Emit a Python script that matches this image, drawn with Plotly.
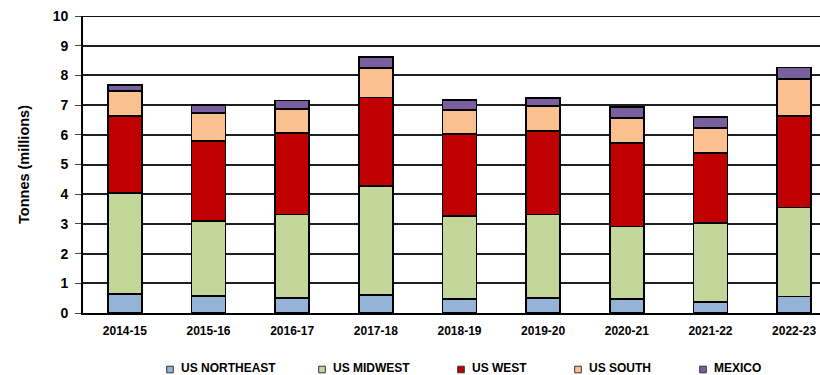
import plotly.graph_objects as go

# Seasonal tonnage by destination region (millions of tonnes)
seasons = ["2014-15", "2015-16", "2016-17", "2017-18", "2018-19",
           "2019-20", "2020-21", "2021-22", "2022-23"]
us_northeast = [0.64, 0.58, 0.51, 0.61, 0.47, 0.50, 0.48, 0.38, 0.55]
us_midwest = [3.40, 2.52, 2.81, 3.67, 2.79, 2.81, 2.43, 2.65, 3.00]
us_west = [2.59, 2.70, 2.74, 2.97, 2.76, 2.81, 2.81, 2.36, 3.09]
us_south = [0.85, 0.93, 0.80, 0.99, 0.82, 0.84, 0.85, 0.83, 1.23]
mexico = [0.19, 0.28, 0.30, 0.37, 0.33, 0.27, 0.36, 0.38, 0.40]

series_names = ["US NORTHEAST", "US MIDWEST", "US WEST", "US SOUTH", "MEXICO"]
series_values = [us_northeast, us_midwest, us_west, us_south, mexico]
series_colors = ["#95B3D7", "#C4D79B", "#C00000", "#FAC090", "#7A5F9E"]

FONT = "Liberation Sans, Arial, sans-serif"
W, H = 820, 375
ML, MR, MT, MB = 83, 0, 16, 62
PW, PH = W - ML - MR, H - MT - MB


def px_x(px):
    return (px - ML) / PW


def px_y(py):
    return (H - MB - py) / PH


fig = go.Figure()
for name, vals, col in zip(series_names, series_values, series_colors):
    fig.add_trace(go.Bar(
        x=seasons, y=vals, name=name,
        marker=dict(color=col, line=dict(color="#000000", width=1.6)),
        showlegend=False,
    ))

# Legend drawn as small squares with labels underneath the plot
legend_text_x = [179, 331, 470, 587, 712]
legend_y = 368
shapes = []
annotations = []
for name, col, tx in zip(series_names, series_colors, legend_text_x):
    cx = tx - 9
    shapes.append(dict(
        type="rect", xref="paper", yref="paper",
        x0=px_x(cx - 3.3), x1=px_x(cx + 3.3),
        y0=px_y(legend_y + 4.8), y1=px_y(legend_y - 1.8),
        fillcolor=col, line=dict(color="#333333", width=1),
    ))
    annotations.append(dict(
        xref="paper", yref="paper", x=px_x(tx), y=px_y(legend_y),
        xanchor="left", yanchor="middle", showarrow=False,
        text=name, font=dict(family=FONT, size=12, color="#000000", weight="bold"),
    ))

# Heavy rule along the top of the value axis
shapes.append(dict(type="line", xref="paper", yref="y", x0=0, x1=1, y0=10, y1=10,
                   line=dict(color="#111111", width=2)))

fig.update_layout(
    template="none",
    width=W, height=H,
    margin=dict(l=ML, r=MR, t=MT, b=MB),
    paper_bgcolor="white", plot_bgcolor="white",
    barmode="stack", bargap=0.594,
    shapes=shapes, annotations=annotations,
    xaxis=dict(
        type="category", range=[-0.5, -0.5 + PW / 83.66],
        showgrid=False, showline=True, linecolor="#000000", linewidth=2,
        ticks="", ticklabelstandoff=6,
        tickfont=dict(family=FONT, size=12, color="#000000", weight="bold"),
    ),
    yaxis=dict(
        range=[0, 10], dtick=1, tick0=0,
        showgrid=True, gridcolor="#202020", gridwidth=1.5,
        showline=True, linecolor="#000000", linewidth=2,
        ticks="outside", ticklen=6, tickcolor="#444444", tickwidth=1,
        ticksuffix="\u00a0",
        tickfont=dict(family=FONT, size=14, color="#000000", weight="bold"),
        title=dict(text="Tonnes (millions)", standoff=20,
                   font=dict(family=FONT, size=14.5, color="#000000", weight="bold")),
        zeroline=False,
    ),
)

fig.write_html("out.html")
